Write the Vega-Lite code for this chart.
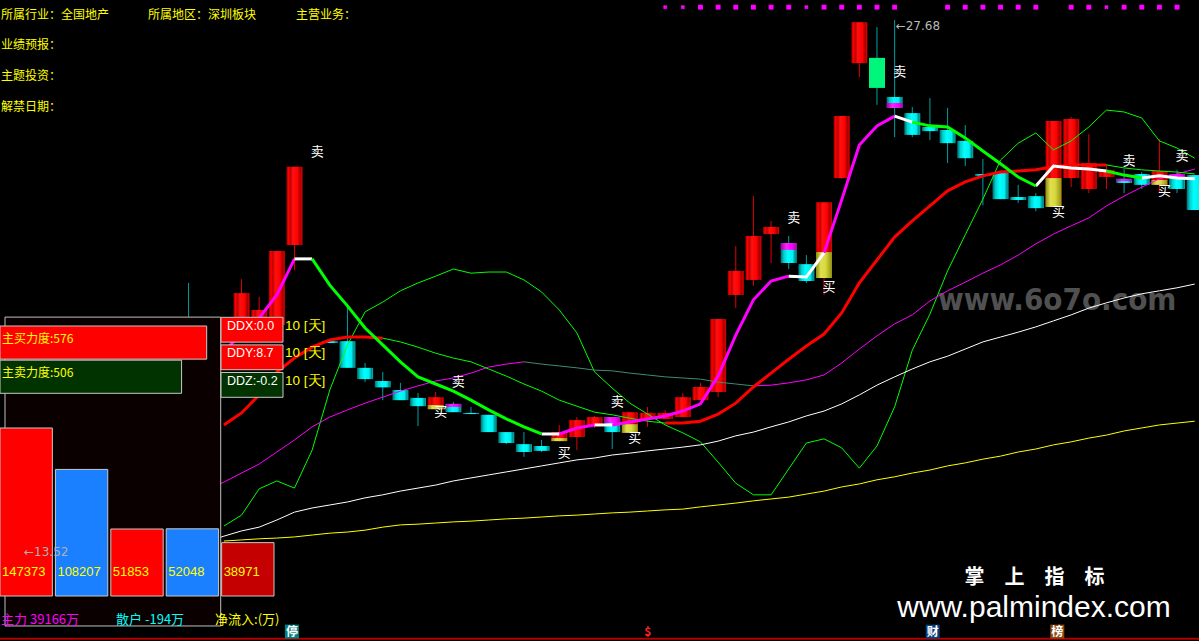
{
"$schema":"https://vega.github.io/schema/vega-lite/v6.json",
"width":1199,"height":641,"padding":0,"autosize":"none","background":"#000000",
"config":{"view":{"stroke":null},"legend":{"disable":true}},
"datasets":{
"candles":[
{"i":10,"o":19.43,"c":19.03,"h":20.68,"l":18.63,"t":"down"},
{"i":13,"o":19.43,"c":20.41,"h":20.78,"l":19.16,"t":"up"},
{"i":14,"o":19.69,"c":19.96,"h":20.31,"l":19.43,"t":"up"},
{"i":15,"o":19.56,"c":21.53,"h":21.53,"l":19.43,"t":"up"},
{"i":16,"o":21.69,"c":23.77,"h":23.77,"l":21.02,"t":"up"},
{"i":18,"o":19.13,"c":19.08,"h":19.13,"l":19.08,"t":"down"},
{"i":19,"o":19.13,"c":18.42,"h":20.04,"l":18.42,"t":"down"},
{"i":20,"o":18.42,"c":18.12,"h":18.55,"l":18.04,"t":"down"},
{"i":21,"o":18.07,"c":17.90,"h":18.31,"l":17.56,"t":"down"},
{"i":22,"o":17.83,"c":17.56,"h":18.02,"l":17.56,"t":"down"},
{"i":23,"o":17.62,"c":17.40,"h":17.75,"l":16.87,"t":"down"},
{"i":24,"o":17.32,"c":17.64,"h":17.78,"l":17.30,"t":"up"},
{"i":25,"o":17.46,"c":17.24,"h":17.51,"l":17.24,"t":"down"},
{"i":26,"o":17.22,"c":17.19,"h":17.38,"l":17.19,"t":"down"},
{"i":27,"o":17.17,"c":16.71,"h":17.17,"l":16.71,"t":"down"},
{"i":28,"o":16.71,"c":16.42,"h":16.71,"l":16.39,"t":"down"},
{"i":29,"o":16.39,"c":16.18,"h":16.71,"l":16.05,"t":"down"},
{"i":30,"o":16.34,"c":16.21,"h":16.50,"l":16.18,"t":"down"},
{"i":31,"o":16.47,"c":16.71,"h":16.90,"l":16.47,"t":"up"},
{"i":32,"o":16.58,"c":17.03,"h":17.11,"l":16.23,"t":"up"},
{"i":33,"o":16.90,"c":17.11,"h":17.14,"l":16.82,"t":"up"},
{"i":34,"o":17.11,"c":16.71,"h":17.11,"l":16.26,"t":"down"},
{"i":35,"o":16.69,"c":17.24,"h":17.24,"l":16.69,"t":"up"},
{"i":36,"o":17.06,"c":17.22,"h":17.38,"l":16.85,"t":"up"},
{"i":37,"o":17.06,"c":17.22,"h":17.30,"l":17.06,"t":"up"},
{"i":38,"o":17.11,"c":17.64,"h":17.75,"l":17.11,"t":"up"},
{"i":39,"o":17.56,"c":17.91,"h":18.02,"l":17.56,"t":"up"},
{"i":40,"o":17.78,"c":19.72,"h":19.72,"l":17.64,"t":"up"},
{"i":41,"o":20.36,"c":21.00,"h":21.66,"l":20.01,"t":"up"},
{"i":42,"o":20.76,"c":21.93,"h":22.99,"l":20.60,"t":"up"},
{"i":43,"o":21.98,"c":22.17,"h":22.33,"l":21.21,"t":"up"},
{"i":44,"o":21.74,"c":21.21,"h":21.93,"l":21.05,"t":"down"},
{"i":45,"o":21.18,"c":20.73,"h":21.42,"l":20.68,"t":"down"},
{"i":46,"o":20.81,"c":22.83,"h":22.83,"l":20.36,"t":"up"},
{"i":47,"o":23.47,"c":25.12,"h":25.12,"l":23.45,"t":"up"},
{"i":48,"o":26.53,"c":27.62,"h":27.62,"l":26.16,"t":"up"},
{"i":49,"o":26.67,"c":25.87,"h":27.49,"l":25.42,"t":"green"},
{"i":50,"o":25.63,"c":25.34,"h":27.68,"l":24.56,"t":"down"},
{"i":51,"o":25.20,"c":24.62,"h":25.36,"l":24.56,"t":"down"},
{"i":52,"o":24.83,"c":24.72,"h":25.60,"l":24.48,"t":"down"},
{"i":53,"o":24.75,"c":24.40,"h":25.34,"l":23.87,"t":"down"},
{"i":54,"o":24.46,"c":24.00,"h":24.88,"l":23.79,"t":"down"},
{"i":55,"o":23.58,"c":23.53,"h":23.98,"l":22.75,"t":"down"},
{"i":56,"o":23.63,"c":22.91,"h":23.63,"l":22.91,"t":"down"},
{"i":57,"o":22.97,"c":22.89,"h":23.29,"l":22.81,"t":"down"},
{"i":58,"o":22.99,"c":22.67,"h":23.07,"l":22.59,"t":"down"},
{"i":59,"o":22.70,"c":24.99,"h":24.99,"l":22.70,"t":"up"},
{"i":60,"o":23.47,"c":25.04,"h":25.10,"l":23.23,"t":"up"},
{"i":61,"o":23.18,"c":23.87,"h":24.64,"l":23.07,"t":"up"},
{"i":62,"o":23.50,"c":23.69,"h":23.82,"l":23.18,"t":"up"},
{"i":63,"o":23.45,"c":23.34,"h":23.71,"l":23.07,"t":"down"},
{"i":64,"o":23.58,"c":23.29,"h":23.63,"l":23.18,"t":"down"},
{"i":65,"o":23.29,"c":23.66,"h":24.51,"l":23.07,"t":"up"},
{"i":66,"o":23.58,"c":23.18,"h":23.69,"l":23.07,"t":"down"},
{"i":67,"o":23.55,"c":22.62,"h":23.55,"l":22.62,"t":"down"}
],
"ov":[
{"i":24,"a":17.43,"b":17.32,"k":"Y"},{"i":25,"a":17.46,"b":17.38,"k":"M"},{"i":31,"a":16.55,"b":16.47,"k":"Y"},
{"i":34,"a":17.11,"b":16.95,"k":"M"},{"i":35,"a":16.92,"b":16.69,"k":"Y"},{"i":44,"a":21.74,"b":21.56,"k":"M"},
{"i":46,"a":21.50,"b":20.81,"k":"Y"},{"i":50,"a":25.47,"b":25.34,"k":"M"},{"i":59,"a":23.47,"b":22.70,"k":"Y"},
{"i":63,"a":23.45,"b":23.39,"k":"M"},{"i":65,"a":23.42,"b":23.29,"k":"Y"},{"i":66,"a":23.58,"b":23.50,"k":"M"}
],
"lines":[
{"ln":"A","sg":1,"st":"up","i":11,"p":18.42},{"ln":"A","sg":1,"st":"up","i":12,"p":18.84},{"ln":"A","sg":1,"st":"up","i":13,"p":19.35},{"ln":"A","sg":1,"st":"up","i":14,"p":19.75},{"ln":"A","sg":1,"st":"up","i":15,"p":20.36},{"ln":"A","sg":1,"st":"up","i":16,"p":21.32},
{"ln":"A","sg":2,"st":"flat","i":16,"p":21.32},{"ln":"A","sg":2,"st":"flat","i":17,"p":21.32},
{"ln":"A","sg":3,"st":"down","i":17,"p":21.32},{"ln":"A","sg":3,"st":"down","i":18,"p":20.62},{"ln":"A","sg":3,"st":"down","i":19,"p":20.07},{"ln":"A","sg":3,"st":"down","i":20,"p":19.48},{"ln":"A","sg":3,"st":"down","i":21,"p":19.03},{"ln":"A","sg":3,"st":"down","i":22,"p":18.58},{"ln":"A","sg":3,"st":"down","i":23,"p":18.18},{"ln":"A","sg":3,"st":"down","i":24,"p":17.99},{"ln":"A","sg":3,"st":"down","i":25,"p":17.80},{"ln":"A","sg":3,"st":"down","i":26,"p":17.56},{"ln":"A","sg":3,"st":"down","i":27,"p":17.30},{"ln":"A","sg":3,"st":"down","i":28,"p":17.06},{"ln":"A","sg":3,"st":"down","i":29,"p":16.85},{"ln":"A","sg":3,"st":"down","i":30,"p":16.66},
{"ln":"A","sg":4,"st":"flat","i":30,"p":16.66},{"ln":"A","sg":4,"st":"flat","i":31,"p":16.66},
{"ln":"A","sg":5,"st":"up","i":31,"p":16.66},{"ln":"A","sg":5,"st":"up","i":32,"p":16.82},{"ln":"A","sg":5,"st":"up","i":33,"p":16.90},
{"ln":"A","sg":6,"st":"flat","i":33,"p":16.90},{"ln":"A","sg":6,"st":"flat","i":34,"p":16.90},
{"ln":"A","sg":7,"st":"up","i":34,"p":16.90},{"ln":"A","sg":7,"st":"up","i":35,"p":16.98},{"ln":"A","sg":7,"st":"up","i":36,"p":17.06},{"ln":"A","sg":7,"st":"up","i":37,"p":17.14},{"ln":"A","sg":7,"st":"up","i":38,"p":17.27},{"ln":"A","sg":7,"st":"up","i":39,"p":17.46},{"ln":"A","sg":7,"st":"up","i":40,"p":18.20},{"ln":"A","sg":7,"st":"up","i":41,"p":19.29},{"ln":"A","sg":7,"st":"up","i":42,"p":20.23},{"ln":"A","sg":7,"st":"up","i":43,"p":20.73},{"ln":"A","sg":7,"st":"up","i":44,"p":20.86},
{"ln":"A","sg":8,"st":"flat","i":44,"p":20.86},{"ln":"A","sg":8,"st":"flat","i":45,"p":20.84},{"ln":"A","sg":8,"st":"flat","i":46,"p":21.48},
{"ln":"A","sg":9,"st":"up","i":46,"p":21.48},{"ln":"A","sg":9,"st":"up","i":47,"p":22.89},{"ln":"A","sg":9,"st":"up","i":48,"p":24.35},{"ln":"A","sg":9,"st":"up","i":49,"p":24.86},{"ln":"A","sg":9,"st":"up","i":50,"p":25.12},
{"ln":"A","sg":10,"st":"flat","i":50,"p":25.12},{"ln":"A","sg":10,"st":"flat","i":51,"p":24.96},
{"ln":"A","sg":11,"st":"down","i":51,"p":24.96},{"ln":"A","sg":11,"st":"down","i":52,"p":24.86},{"ln":"A","sg":11,"st":"down","i":53,"p":24.83},{"ln":"A","sg":11,"st":"down","i":54,"p":24.54},{"ln":"A","sg":11,"st":"down","i":55,"p":24.19},{"ln":"A","sg":11,"st":"down","i":56,"p":23.85},{"ln":"A","sg":11,"st":"down","i":57,"p":23.50},{"ln":"A","sg":11,"st":"down","i":58,"p":23.26},
{"ln":"A","sg":12,"st":"flat","i":58,"p":23.26},{"ln":"A","sg":12,"st":"flat","i":59,"p":23.79},{"ln":"A","sg":12,"st":"flat","i":60,"p":23.74},{"ln":"A","sg":12,"st":"flat","i":61,"p":23.71},{"ln":"A","sg":12,"st":"flat","i":62,"p":23.66},
{"ln":"A","sg":13,"st":"down","i":62,"p":23.66},{"ln":"A","sg":13,"st":"down","i":63,"p":23.55},{"ln":"A","sg":13,"st":"down","i":64,"p":23.47},
{"ln":"A","sg":14,"st":"flat","i":64,"p":23.47},{"ln":"A","sg":14,"st":"flat","i":65,"p":23.53},{"ln":"A","sg":14,"st":"flat","i":66,"p":23.47},{"ln":"A","sg":14,"st":"flat","i":67,"p":23.45},
{"ln":"B","sg":1,"st":"up","i":12,"p":16.90},{"ln":"B","sg":1,"st":"up","i":13,"p":17.22},{"ln":"B","sg":1,"st":"up","i":14,"p":17.70},{"ln":"B","sg":1,"st":"up","i":15,"p":18.31},{"ln":"B","sg":1,"st":"up","i":16,"p":18.68},{"ln":"B","sg":1,"st":"up","i":17,"p":18.97},{"ln":"B","sg":1,"st":"up","i":18,"p":19.16},{"ln":"B","sg":1,"st":"up","i":19,"p":19.24},{"ln":"B","sg":1,"st":"up","i":20,"p":19.24},{"ln":"B","sg":1,"st":"up","i":21,"p":19.21},
{"ln":"B","sg":2,"st":"down","i":21,"p":19.21},{"ln":"B","sg":2,"st":"down","i":22,"p":19.11},{"ln":"B","sg":2,"st":"down","i":23,"p":18.97},{"ln":"B","sg":2,"st":"down","i":24,"p":18.81},{"ln":"B","sg":2,"st":"down","i":25,"p":18.68},{"ln":"B","sg":2,"st":"down","i":26,"p":18.58},{"ln":"B","sg":2,"st":"down","i":27,"p":18.39},{"ln":"B","sg":2,"st":"down","i":28,"p":18.20},{"ln":"B","sg":2,"st":"down","i":29,"p":17.99},{"ln":"B","sg":2,"st":"down","i":30,"p":17.80},{"ln":"B","sg":2,"st":"down","i":31,"p":17.56},{"ln":"B","sg":2,"st":"down","i":32,"p":17.40},{"ln":"B","sg":2,"st":"down","i":33,"p":17.24},{"ln":"B","sg":2,"st":"down","i":34,"p":17.17},{"ln":"B","sg":2,"st":"down","i":35,"p":17.08},{"ln":"B","sg":2,"st":"down","i":36,"p":17.00},{"ln":"B","sg":2,"st":"down","i":37,"p":16.95},
{"ln":"B","sg":3,"st":"up","i":37,"p":16.95},{"ln":"B","sg":3,"st":"up","i":38,"p":16.95},{"ln":"B","sg":3,"st":"up","i":39,"p":17.00},{"ln":"B","sg":3,"st":"up","i":40,"p":17.19},{"ln":"B","sg":3,"st":"up","i":41,"p":17.48},{"ln":"B","sg":3,"st":"up","i":42,"p":17.91},{"ln":"B","sg":3,"st":"up","i":43,"p":18.28},{"ln":"B","sg":3,"st":"up","i":44,"p":18.65},{"ln":"B","sg":3,"st":"up","i":45,"p":19.00},{"ln":"B","sg":3,"st":"up","i":46,"p":19.32},{"ln":"B","sg":3,"st":"up","i":47,"p":19.88},{"ln":"B","sg":3,"st":"up","i":48,"p":20.68},{"ln":"B","sg":3,"st":"up","i":49,"p":21.29},{"ln":"B","sg":3,"st":"up","i":50,"p":21.90},{"ln":"B","sg":3,"st":"up","i":51,"p":22.33},{"ln":"B","sg":3,"st":"up","i":52,"p":22.73},{"ln":"B","sg":3,"st":"up","i":53,"p":23.13},{"ln":"B","sg":3,"st":"up","i":54,"p":23.37},{"ln":"B","sg":3,"st":"up","i":55,"p":23.53},{"ln":"B","sg":3,"st":"up","i":56,"p":23.63},{"ln":"B","sg":3,"st":"up","i":57,"p":23.66},{"ln":"B","sg":3,"st":"up","i":58,"p":23.69},{"ln":"B","sg":3,"st":"up","i":59,"p":23.77},{"ln":"B","sg":3,"st":"up","i":60,"p":23.82},{"ln":"B","sg":3,"st":"up","i":61,"p":23.82},{"ln":"B","sg":3,"st":"up","i":62,"p":23.82},
{"ln":"B","sg":4,"st":"down","i":62,"p":23.82},{"ln":"B","sg":4,"st":"down","i":63,"p":23.74},{"ln":"B","sg":4,"st":"down","i":64,"p":23.69},{"ln":"B","sg":4,"st":"down","i":65,"p":23.66},{"ln":"B","sg":4,"st":"down","i":66,"p":23.63},{"ln":"B","sg":4,"st":"down","i":67,"p":23.58},
{"ln":"C","sg":1,"st":"up","i":11,"p":15.17},{"ln":"C","sg":1,"st":"up","i":12,"p":15.38},{"ln":"C","sg":1,"st":"up","i":13,"p":15.62},{"ln":"C","sg":1,"st":"up","i":14,"p":15.86},{"ln":"C","sg":1,"st":"up","i":15,"p":16.18},{"ln":"C","sg":1,"st":"up","i":16,"p":16.50},{"ln":"C","sg":1,"st":"up","i":17,"p":16.85},{"ln":"C","sg":1,"st":"up","i":18,"p":17.11},{"ln":"C","sg":1,"st":"up","i":19,"p":17.30},{"ln":"C","sg":1,"st":"up","i":20,"p":17.48},{"ln":"C","sg":1,"st":"up","i":21,"p":17.64},{"ln":"C","sg":1,"st":"up","i":22,"p":17.80},{"ln":"C","sg":1,"st":"up","i":23,"p":17.94},{"ln":"C","sg":1,"st":"up","i":24,"p":18.07},{"ln":"C","sg":1,"st":"up","i":25,"p":18.15},{"ln":"C","sg":1,"st":"up","i":26,"p":18.28},{"ln":"C","sg":1,"st":"up","i":27,"p":18.44},{"ln":"C","sg":1,"st":"up","i":28,"p":18.52},{"ln":"C","sg":1,"st":"up","i":29,"p":18.58},
{"ln":"C","sg":2,"st":"down","i":29,"p":18.58},{"ln":"C","sg":2,"st":"down","i":30,"p":18.52},{"ln":"C","sg":2,"st":"down","i":31,"p":18.47},{"ln":"C","sg":2,"st":"down","i":32,"p":18.42},{"ln":"C","sg":2,"st":"down","i":33,"p":18.36},{"ln":"C","sg":2,"st":"down","i":34,"p":18.34},{"ln":"C","sg":2,"st":"down","i":35,"p":18.28},{"ln":"C","sg":2,"st":"down","i":36,"p":18.23},{"ln":"C","sg":2,"st":"down","i":37,"p":18.18},{"ln":"C","sg":2,"st":"down","i":38,"p":18.15},{"ln":"C","sg":2,"st":"down","i":39,"p":18.12},{"ln":"C","sg":2,"st":"down","i":40,"p":18.04},{"ln":"C","sg":2,"st":"down","i":41,"p":17.99},{"ln":"C","sg":2,"st":"down","i":42,"p":17.94},
{"ln":"C","sg":3,"st":"up","i":42,"p":17.94},{"ln":"C","sg":3,"st":"up","i":43,"p":17.96},{"ln":"C","sg":3,"st":"up","i":44,"p":18.02},{"ln":"C","sg":3,"st":"up","i":45,"p":18.10},{"ln":"C","sg":3,"st":"up","i":46,"p":18.23},{"ln":"C","sg":3,"st":"up","i":47,"p":18.55},{"ln":"C","sg":3,"st":"up","i":48,"p":18.92},{"ln":"C","sg":3,"st":"up","i":49,"p":19.27},{"ln":"C","sg":3,"st":"up","i":50,"p":19.59},{"ln":"C","sg":3,"st":"up","i":51,"p":19.83},{"ln":"C","sg":3,"st":"up","i":52,"p":20.20},{"ln":"C","sg":3,"st":"up","i":53,"p":20.47},{"ln":"C","sg":3,"st":"up","i":54,"p":20.70},{"ln":"C","sg":3,"st":"up","i":55,"p":20.94},{"ln":"C","sg":3,"st":"up","i":56,"p":21.16},{"ln":"C","sg":3,"st":"up","i":57,"p":21.42},{"ln":"C","sg":3,"st":"up","i":58,"p":21.72},{"ln":"C","sg":3,"st":"up","i":59,"p":21.98},{"ln":"C","sg":3,"st":"up","i":60,"p":22.20},{"ln":"C","sg":3,"st":"up","i":61,"p":22.41},{"ln":"C","sg":3,"st":"up","i":62,"p":22.73},{"ln":"C","sg":3,"st":"up","i":63,"p":22.99},{"ln":"C","sg":3,"st":"up","i":64,"p":23.23},{"ln":"C","sg":3,"st":"up","i":65,"p":23.45},{"ln":"C","sg":3,"st":"up","i":66,"p":23.58},{"ln":"C","sg":3,"st":"up","i":67,"p":23.71},
{"ln":"D","sg":1,"st":"up","i":11,"p":13.79},{"ln":"D","sg":1,"st":"up","i":12,"p":13.94},{"ln":"D","sg":1,"st":"up","i":13,"p":14.08},{"ln":"D","sg":1,"st":"up","i":14,"p":14.18},{"ln":"D","sg":1,"st":"up","i":15,"p":14.37},{"ln":"D","sg":1,"st":"up","i":16,"p":14.58},{"ln":"D","sg":1,"st":"up","i":17,"p":14.69},{"ln":"D","sg":1,"st":"up","i":18,"p":14.77},{"ln":"D","sg":1,"st":"up","i":19,"p":14.85},{"ln":"D","sg":1,"st":"up","i":20,"p":14.96},{"ln":"D","sg":1,"st":"up","i":21,"p":15.04},{"ln":"D","sg":1,"st":"up","i":22,"p":15.14},{"ln":"D","sg":1,"st":"up","i":23,"p":15.22},{"ln":"D","sg":1,"st":"up","i":24,"p":15.30},{"ln":"D","sg":1,"st":"up","i":25,"p":15.41},{"ln":"D","sg":1,"st":"up","i":26,"p":15.49},{"ln":"D","sg":1,"st":"up","i":27,"p":15.57},{"ln":"D","sg":1,"st":"up","i":28,"p":15.65},{"ln":"D","sg":1,"st":"up","i":29,"p":15.73},{"ln":"D","sg":1,"st":"up","i":30,"p":15.81},{"ln":"D","sg":1,"st":"up","i":31,"p":15.89},{"ln":"D","sg":1,"st":"up","i":32,"p":15.97},{"ln":"D","sg":1,"st":"up","i":33,"p":16.02},{"ln":"D","sg":1,"st":"up","i":34,"p":16.10},{"ln":"D","sg":1,"st":"up","i":35,"p":16.15},{"ln":"D","sg":1,"st":"up","i":36,"p":16.21},{"ln":"D","sg":1,"st":"up","i":37,"p":16.26},{"ln":"D","sg":1,"st":"up","i":38,"p":16.31},{"ln":"D","sg":1,"st":"up","i":39,"p":16.37},{"ln":"D","sg":1,"st":"up","i":40,"p":16.47},{"ln":"D","sg":1,"st":"up","i":41,"p":16.61},{"ln":"D","sg":1,"st":"up","i":42,"p":16.71},{"ln":"D","sg":1,"st":"up","i":43,"p":16.85},{"ln":"D","sg":1,"st":"up","i":44,"p":16.98},{"ln":"D","sg":1,"st":"up","i":45,"p":17.14},{"ln":"D","sg":1,"st":"up","i":46,"p":17.27},{"ln":"D","sg":1,"st":"up","i":47,"p":17.46},{"ln":"D","sg":1,"st":"up","i":48,"p":17.70},{"ln":"D","sg":1,"st":"up","i":49,"p":17.96},{"ln":"D","sg":1,"st":"up","i":50,"p":18.18},{"ln":"D","sg":1,"st":"up","i":51,"p":18.39},{"ln":"D","sg":1,"st":"up","i":52,"p":18.58},{"ln":"D","sg":1,"st":"up","i":53,"p":18.73},{"ln":"D","sg":1,"st":"up","i":54,"p":18.92},{"ln":"D","sg":1,"st":"up","i":55,"p":19.11},{"ln":"D","sg":1,"st":"up","i":56,"p":19.24},{"ln":"D","sg":1,"st":"up","i":57,"p":19.37},{"ln":"D","sg":1,"st":"up","i":58,"p":19.51},{"ln":"D","sg":1,"st":"up","i":59,"p":19.67},{"ln":"D","sg":1,"st":"up","i":60,"p":19.83},{"ln":"D","sg":1,"st":"up","i":61,"p":20.01},{"ln":"D","sg":1,"st":"up","i":62,"p":20.15},{"ln":"D","sg":1,"st":"up","i":63,"p":20.28},{"ln":"D","sg":1,"st":"up","i":64,"p":20.39},{"ln":"D","sg":1,"st":"up","i":65,"p":20.47},{"ln":"D","sg":1,"st":"up","i":66,"p":20.55},{"ln":"D","sg":1,"st":"up","i":67,"p":20.65},
{"ln":"E","sg":1,"st":"up","i":12,"p":13.81},{"ln":"E","sg":1,"st":"up","i":13,"p":13.84},{"ln":"E","sg":1,"st":"up","i":14,"p":13.87},{"ln":"E","sg":1,"st":"up","i":15,"p":13.89},{"ln":"E","sg":1,"st":"up","i":16,"p":13.92},{"ln":"E","sg":1,"st":"up","i":17,"p":13.97},{"ln":"E","sg":1,"st":"up","i":18,"p":14.02},{"ln":"E","sg":1,"st":"up","i":19,"p":14.05},{"ln":"E","sg":1,"st":"up","i":20,"p":14.10},{"ln":"E","sg":1,"st":"up","i":21,"p":14.18},{"ln":"E","sg":1,"st":"up","i":22,"p":14.24},{"ln":"E","sg":1,"st":"up","i":23,"p":14.26},{"ln":"E","sg":1,"st":"up","i":24,"p":14.29},{"ln":"E","sg":1,"st":"up","i":25,"p":14.32},{"ln":"E","sg":1,"st":"up","i":26,"p":14.34},{"ln":"E","sg":1,"st":"up","i":27,"p":14.37},{"ln":"E","sg":1,"st":"up","i":28,"p":14.40},{"ln":"E","sg":1,"st":"up","i":29,"p":14.42},{"ln":"E","sg":1,"st":"up","i":30,"p":14.45},{"ln":"E","sg":1,"st":"up","i":31,"p":14.48},{"ln":"E","sg":1,"st":"up","i":32,"p":14.50},{"ln":"E","sg":1,"st":"up","i":33,"p":14.53},{"ln":"E","sg":1,"st":"up","i":34,"p":14.56},{"ln":"E","sg":1,"st":"up","i":35,"p":14.58},{"ln":"E","sg":1,"st":"up","i":36,"p":14.61},{"ln":"E","sg":1,"st":"up","i":37,"p":14.64},{"ln":"E","sg":1,"st":"up","i":38,"p":14.66},{"ln":"E","sg":1,"st":"up","i":39,"p":14.72},{"ln":"E","sg":1,"st":"up","i":40,"p":14.77},{"ln":"E","sg":1,"st":"up","i":41,"p":14.82},{"ln":"E","sg":1,"st":"up","i":42,"p":14.88},{"ln":"E","sg":1,"st":"up","i":43,"p":14.93},{"ln":"E","sg":1,"st":"up","i":44,"p":14.98},{"ln":"E","sg":1,"st":"up","i":45,"p":15.06},{"ln":"E","sg":1,"st":"up","i":46,"p":15.14},{"ln":"E","sg":1,"st":"up","i":47,"p":15.25},{"ln":"E","sg":1,"st":"up","i":48,"p":15.33},{"ln":"E","sg":1,"st":"up","i":49,"p":15.44},{"ln":"E","sg":1,"st":"up","i":50,"p":15.52},{"ln":"E","sg":1,"st":"up","i":51,"p":15.62},{"ln":"E","sg":1,"st":"up","i":52,"p":15.70},{"ln":"E","sg":1,"st":"up","i":53,"p":15.81},{"ln":"E","sg":1,"st":"up","i":54,"p":15.89},{"ln":"E","sg":1,"st":"up","i":55,"p":15.99},{"ln":"E","sg":1,"st":"up","i":56,"p":16.07},{"ln":"E","sg":1,"st":"up","i":57,"p":16.18},{"ln":"E","sg":1,"st":"up","i":58,"p":16.26},{"ln":"E","sg":1,"st":"up","i":59,"p":16.37},{"ln":"E","sg":1,"st":"up","i":60,"p":16.45},{"ln":"E","sg":1,"st":"up","i":61,"p":16.55},{"ln":"E","sg":1,"st":"up","i":62,"p":16.63},{"ln":"E","sg":1,"st":"up","i":63,"p":16.74},{"ln":"E","sg":1,"st":"up","i":64,"p":16.82},{"ln":"E","sg":1,"st":"up","i":65,"p":16.90},{"ln":"E","sg":1,"st":"up","i":66,"p":16.95},{"ln":"E","sg":1,"st":"up","i":67,"p":17.00},
{"ln":"F","sg":1,"st":"up","i":12,"p":14.21},{"ln":"F","sg":1,"st":"up","i":13,"p":14.50},{"ln":"F","sg":1,"st":"up","i":14,"p":15.20},{"ln":"F","sg":1,"st":"up","i":15,"p":15.41},{"ln":"F","sg":1,"st":"up","i":16,"p":15.22},{"ln":"F","sg":1,"st":"up","i":17,"p":16.23},{"ln":"F","sg":1,"st":"up","i":18,"p":17.83},{"ln":"F","sg":1,"st":"up","i":19,"p":19.03},{"ln":"F","sg":1,"st":"up","i":20,"p":19.91},{"ln":"F","sg":1,"st":"up","i":21,"p":20.17},{"ln":"F","sg":1,"st":"up","i":22,"p":20.47},{"ln":"F","sg":1,"st":"up","i":23,"p":20.68},{"ln":"F","sg":1,"st":"up","i":24,"p":20.86},{"ln":"F","sg":1,"st":"up","i":25,"p":21.05},{"ln":"F","sg":1,"st":"up","i":26,"p":20.94},{"ln":"F","sg":1,"st":"up","i":27,"p":20.97},{"ln":"F","sg":1,"st":"up","i":28,"p":20.97},{"ln":"F","sg":1,"st":"up","i":29,"p":20.76},{"ln":"F","sg":1,"st":"up","i":30,"p":20.44},{"ln":"F","sg":1,"st":"up","i":31,"p":19.96},{"ln":"F","sg":1,"st":"up","i":32,"p":19.35},{"ln":"F","sg":1,"st":"up","i":33,"p":18.31},{"ln":"F","sg":1,"st":"up","i":34,"p":17.88},{"ln":"F","sg":1,"st":"up","i":35,"p":17.48},{"ln":"F","sg":1,"st":"up","i":36,"p":17.19},{"ln":"F","sg":1,"st":"up","i":37,"p":16.90},{"ln":"F","sg":1,"st":"up","i":38,"p":16.69},{"ln":"F","sg":1,"st":"up","i":39,"p":16.45},{"ln":"F","sg":1,"st":"up","i":40,"p":15.91},{"ln":"F","sg":1,"st":"up","i":41,"p":15.35},{"ln":"F","sg":1,"st":"up","i":42,"p":15.04},{"ln":"F","sg":1,"st":"up","i":43,"p":15.04},{"ln":"F","sg":1,"st":"up","i":44,"p":15.73},{"ln":"F","sg":1,"st":"up","i":45,"p":16.42},{"ln":"F","sg":1,"st":"up","i":46,"p":16.53},{"ln":"F","sg":1,"st":"up","i":47,"p":16.29},{"ln":"F","sg":1,"st":"up","i":48,"p":15.75},{"ln":"F","sg":1,"st":"up","i":49,"p":16.34},{"ln":"F","sg":1,"st":"up","i":50,"p":17.38},{"ln":"F","sg":1,"st":"up","i":51,"p":18.89},{"ln":"F","sg":1,"st":"up","i":52,"p":19.85},{"ln":"F","sg":1,"st":"up","i":53,"p":21.00},{"ln":"F","sg":1,"st":"up","i":54,"p":21.96},{"ln":"F","sg":1,"st":"up","i":55,"p":22.91},{"ln":"F","sg":1,"st":"up","i":56,"p":23.95},{"ln":"F","sg":1,"st":"up","i":57,"p":24.40},{"ln":"F","sg":1,"st":"up","i":58,"p":24.67},{"ln":"F","sg":1,"st":"up","i":59,"p":24.22},{"ln":"F","sg":1,"st":"up","i":60,"p":24.46},{"ln":"F","sg":1,"st":"up","i":61,"p":24.83},{"ln":"F","sg":1,"st":"up","i":62,"p":25.28},{"ln":"F","sg":1,"st":"up","i":63,"p":25.23},{"ln":"F","sg":1,"st":"up","i":64,"p":25.07},{"ln":"F","sg":1,"st":"up","i":65,"p":24.46},{"ln":"F","sg":1,"st":"up","i":66,"p":24.27},{"ln":"F","sg":1,"st":"up","i":67,"p":24.00}
],
"sig":[
{"i":17,"p":24.16,"s":"卖"},{"i":25,"p":18.04,"s":"卖"},{"i":24,"p":17.24,"s":"买"},{"i":31,"p":16.15,"s":"买"},{"i":34,"p":17.51,"s":"卖"},{"i":35,"p":16.55,"s":"买"},{"i":44,"p":22.41,"s":"卖"},{"i":46,"p":20.57,"s":"买"},{"i":50,"p":26.29,"s":"卖"},{"i":59,"p":22.57,"s":"买"},{"i":63,"p":23.92,"s":"卖"},{"i":65,"p":23.13,"s":"买"},{"i":66,"p":24.06,"s":"卖"}
],
"cross":[
{"i":37,"g":"b"},{"i":38,"g":"b"},{"i":39,"g":"a"},{"i":40,"g":"a"},{"i":41,"g":"a"},{"i":42,"g":"a"},{"i":43,"g":"a"},{"i":44,"g":"a"},{"i":45,"g":"b"},{"i":46,"g":"a"},{"i":47,"g":"a"},{"i":48,"g":"a"},{"i":49,"g":"a"},{"i":50,"g":"a"},
{"i":53,"g":"a"},{"i":54,"g":"a"},{"i":55,"g":"a"},{"i":56,"g":"a"},{"i":57,"g":"a"},{"i":58,"g":"a"},
{"i":60,"g":"a"},{"i":61,"g":"a"},{"i":62,"g":"b"},{"i":63,"g":"a"},{"i":64,"g":"a"},{"i":65,"g":"a"},{"i":66,"g":"a"}
],
"flow":[
{"n":"主力流入","v":147373,"c":"流入"},{"n":"主力流出","v":108207,"c":"流出"},{"n":"散户流入","v":51853,"c":"流入"},{"n":"散户流出","v":52048,"c":"流出"},{"n":"净流入","v":38971,"c":"净额"}
],
"force":[{"k":"主买力度:576","v":576},{"k":"主卖力度:506","v":506}],
"ddx":[
{"k":"DDX","v":0.0,"t":"DDX:0.0","d":"10 [天]"},{"k":"DDY","v":8.7,"t":"DDY:8.7","d":"10 [天]"},{"k":"DDZ","v":-0.2,"t":"DDZ:-0.2","d":"10 [天]"}
],
"marks":[{"i":16,"m":"停"},{"i":36,"m":"$"},{"i":52,"m":"财"},{"i":59,"m":"榜"}]
},
"resolve":{"scale":{"x":"independent","y":"independent","color":"independent"}},
"layer":[
{
"resolve":{"scale":{"color":"independent"}},
"layer":[
{"data":{"values":[{}]},"mark":{"type":"text","font":"'Liberation Sans Narrow', 'DejaVu Sans Condensed', sans-serif","fontWeight":"bold","fontSize":31,"color":"#505050","align":"center","baseline":"alphabetic"},
 "encoding":{"x":{"datum":59.21,"axis":null,"scale":{"domain":[-0.4,66.96],"nice":false,"zero":false}},"y":{"datum":19.96,"axis":null,"scale":{"domain":[11.15,28.21],"nice":false,"zero":false}},"text":{"value":"www.6o7o.com"}}},
{"data":{"name":"candles"},"mark":{"type":"rule","strokeWidth":1},
 "encoding":{"x":{"field":"i","type":"quantitative","axis":null,"scale":{"domain":[-0.4,66.96],"nice":false,"zero":false}},"y":{"field":"l","type":"quantitative","axis":null,"scale":{"domain":[11.15,28.21],"nice":false,"zero":false}},"y2":{"field":"h"},
 "color":{"field":"t","type":"nominal","legend":null,"scale":{"domain":["up","down","green"],"range":["#e00000","#00a0a0","#00a0a0"]}}}},
{"data":{"name":"candles"},"transform":[{"filter":"datum.t=='up'"}],
 "mark":{"type":"bar","width":16,"color":{"gradient":"linear","x1":0,"x2":1,"y1":0,"y2":0,"stops":[{"offset":0,"color":"#8a0000"},{"offset":0.12,"color":"#ff0000"},{"offset":0.25,"color":"#c00000"},{"offset":0.4,"color":"#ff1010"},{"offset":0.7,"color":"#ff0000"},{"offset":0.86,"color":"#a00000"},{"offset":1,"color":"#e80000"}]}},
 "encoding":{"x":{"field":"i","type":"quantitative"},"y":{"field":"o","type":"quantitative"},"y2":{"field":"c"}}},
{"data":{"name":"candles"},"transform":[{"filter":"datum.t=='down'"}],
 "mark":{"type":"bar","width":16,"color":{"gradient":"linear","x1":0,"x2":1,"y1":0,"y2":0,"stops":[{"offset":0,"color":"#006a6a"},{"offset":0.2,"color":"#00d0d0"},{"offset":0.45,"color":"#00ffff"},{"offset":0.75,"color":"#00f0f0"},{"offset":0.9,"color":"#008c8c"},{"offset":1,"color":"#00b0b0"}]}},
 "encoding":{"x":{"field":"i","type":"quantitative"},"y":{"field":"o","type":"quantitative"},"y2":{"field":"c"}}},
{"data":{"name":"candles"},"transform":[{"filter":"datum.t=='green'"}],
 "mark":{"type":"bar","width":16,"color":"#00f57c"},
 "encoding":{"x":{"field":"i","type":"quantitative"},"y":{"field":"o","type":"quantitative"},"y2":{"field":"c"}}},
{"data":{"name":"ov"},"transform":[{"filter":"datum.k=='Y'"}],
 "mark":{"type":"bar","width":16,"color":{"gradient":"linear","x1":0,"x2":1,"y1":0,"y2":0,"stops":[{"offset":0,"color":"#8c8c10"},{"offset":0.3,"color":"#e0e050"},{"offset":0.6,"color":"#d8d840"},{"offset":1,"color":"#909010"}]}},
 "encoding":{"x":{"field":"i","type":"quantitative"},"y":{"field":"a","type":"quantitative"},"y2":{"field":"b"}}},
{"data":{"name":"ov"},"transform":[{"filter":"datum.k=='M'"}],
 "mark":{"type":"bar","width":16,"color":{"gradient":"linear","x1":0,"x2":1,"y1":0,"y2":0,"stops":[{"offset":0,"color":"#a000a0"},{"offset":0.35,"color":"#ff20ff"},{"offset":0.7,"color":"#ff00ff"},{"offset":1,"color":"#b000b0"}]}},
 "encoding":{"x":{"field":"i","type":"quantitative"},"y":{"field":"a","type":"quantitative"},"y2":{"field":"b"}}},
{"data":{"name":"lines"},"transform":[{"filter":"datum.ln=='F'"}],"mark":{"type":"line","color":"#00ff00","strokeWidth":1},
 "encoding":{"x":{"field":"i","type":"quantitative"},"y":{"field":"p","type":"quantitative"},"detail":{"field":"sg","type":"nominal"}}},
{"data":{"name":"lines"},"transform":[{"filter":"datum.ln=='D'"}],"mark":{"type":"line","color":"#ffffff","strokeWidth":1},
 "encoding":{"x":{"field":"i","type":"quantitative"},"y":{"field":"p","type":"quantitative"},"detail":{"field":"sg","type":"nominal"}}},
{"data":{"name":"lines"},"transform":[{"filter":"datum.ln=='E'"}],"mark":{"type":"line","color":"#ffff00","strokeWidth":1},
 "encoding":{"x":{"field":"i","type":"quantitative"},"y":{"field":"p","type":"quantitative"},"detail":{"field":"sg","type":"nominal"}}},
{"data":{"name":"lines"},"transform":[{"filter":"datum.ln=='C' && datum.st=='up'"}],"mark":{"type":"line","color":"#ff00ff","strokeWidth":1},
 "encoding":{"x":{"field":"i","type":"quantitative"},"y":{"field":"p","type":"quantitative"},"detail":{"field":"sg","type":"nominal"}}},
{"data":{"name":"lines"},"transform":[{"filter":"datum.ln=='C' && datum.st=='down'"}],"mark":{"type":"line","color":"#3d8c74","strokeWidth":1},
 "encoding":{"x":{"field":"i","type":"quantitative"},"y":{"field":"p","type":"quantitative"},"detail":{"field":"sg","type":"nominal"}}},
{"data":{"name":"lines"},"transform":[{"filter":"datum.ln=='B' && datum.st=='up'"}],"mark":{"type":"line","color":"#ff0000","strokeWidth":3},
 "encoding":{"x":{"field":"i","type":"quantitative"},"y":{"field":"p","type":"quantitative"},"detail":{"field":"sg","type":"nominal"}}},
{"data":{"name":"lines"},"transform":[{"filter":"datum.ln=='B' && datum.st=='down'"}],"mark":{"type":"line","color":"#00ff00","strokeWidth":1},
 "encoding":{"x":{"field":"i","type":"quantitative"},"y":{"field":"p","type":"quantitative"},"detail":{"field":"sg","type":"nominal"}}},
{"data":{"name":"lines"},"transform":[{"filter":"datum.ln=='A' && datum.st=='up'"}],"mark":{"type":"line","color":"#ff00ff","strokeWidth":3},
 "encoding":{"x":{"field":"i","type":"quantitative"},"y":{"field":"p","type":"quantitative"},"detail":{"field":"sg","type":"nominal"}}},
{"data":{"name":"lines"},"transform":[{"filter":"datum.ln=='A' && datum.st=='flat'"}],"mark":{"type":"line","color":"#ffffff","strokeWidth":3},
 "encoding":{"x":{"field":"i","type":"quantitative"},"y":{"field":"p","type":"quantitative"},"detail":{"field":"sg","type":"nominal"}}},
{"data":{"name":"lines"},"transform":[{"filter":"datum.ln=='A' && datum.st=='down'"}],"mark":{"type":"line","color":"#00ff00","strokeWidth":3},
 "encoding":{"x":{"field":"i","type":"quantitative"},"y":{"field":"p","type":"quantitative"},"detail":{"field":"sg","type":"nominal"}}},
{"data":{"name":"sig"},"mark":{"type":"text","color":"#ffffff","fontSize":13,"font":"Noto Sans CJK SC","dx":5,"baseline":"middle","align":"center"},
 "encoding":{"x":{"field":"i","type":"quantitative"},"y":{"field":"p","type":"quantitative"},"text":{"field":"s"}}},
{"data":{"name":"cross"},"transform":[{"filter":"datum.g=='a'"}],"mark":{"type":"point","shape":"square","filled":true,"size":24,"color":"#ff00ff","opacity":1},
 "encoding":{"x":{"field":"i","type":"quantitative"},"y":{"datum":28.02}}},
{"data":{"name":"cross"},"transform":[{"filter":"datum.g=='b'"}],"mark":{"type":"point","shape":"cross","angle":45,"filled":true,"size":20,"color":"#ff00ff","opacity":1},
 "encoding":{"x":{"field":"i","type":"quantitative"},"y":{"datum":28.02}}},
{"data":{"values":[{}]},"mark":{"type":"text","align":"left","baseline":"middle","dx":1,"dy":6,"color":"#b8b8b8","fontSize":12,"font":"DejaVu Sans"},
 "encoding":{"x":{"datum":50},"y":{"datum":27.68},"text":{"value":"←27.68"}}},
{"data":{"values":[{}]},"mark":{"type":"rect","fill":"#0a0000","stroke":"#c0c0c0","strokeWidth":1},
 "encoding":{"x":{"datum":-0.4},"x2":{"datum":11.82},"y":{"datum":19.77},"y2":{"datum":11.55}}}
]
},
{
"data":{"name":"flow"},
"layer":[
{"mark":{"type":"bar","stroke":"#c8c8c8","strokeWidth":1},
 "encoding":{"x":{"field":"n","type":"nominal","sort":null,"axis":null,"scale":{"type":"band","range":[0,274],"paddingInner":0.055,"paddingOuter":0}},
 "y":{"field":"v","type":"quantitative","axis":null,"scale":{"domain":[-11500,147373],"range":[596,428],"nice":false,"zero":false}},
 "y2":{"datum":-11500},
 "color":{"field":"c","type":"nominal","legend":null,"scale":{"domain":["流入","流出","净额"],"range":["#ff0000","#1a80ff","#c40000"]}}}},
{"mark":{"type":"text","align":"left","baseline":"middle","dx":2,"color":"#ffff00","fontSize":13,"font":"Liberation Sans"},
 "encoding":{"x":{"field":"n","type":"nominal","sort":null,"axis":null,"bandPosition":0},"y":{"datum":11200},"text":{"field":"v","type":"quantitative","format":"d"}}}
]
},
{
"data":{"name":"force"},
"layer":[
{"mark":{"type":"bar","stroke":"#c8c8c8","strokeWidth":1},
 "encoding":{"y":{"field":"k","type":"nominal","sort":null,"axis":null,"scale":{"type":"band","range":[326,393.3],"paddingInner":0.03,"paddingOuter":0}},
 "x":{"field":"v","type":"quantitative","axis":null,"scale":{"domain":[0,576],"range":[0,206.7],"nice":false}},
 "color":{"field":"k","type":"nominal","legend":null,"scale":{"domain":["主买力度:576","主卖力度:506"],"range":["#ff0000","#003300"]}}}},
{"mark":{"type":"text","align":"left","baseline":"middle","dx":2,"dy":-4,"color":"#ffff00","fontSize":12,"font":"Noto Sans CJK SC"},
 "encoding":{"y":{"field":"k","type":"nominal","sort":null,"axis":null},"x":{"datum":0},"text":{"field":"k"}}}
]
},
{
"data":{"name":"ddx"},
"layer":[
{"mark":{"type":"rect","stroke":"#c8c8c8","strokeWidth":1},
 "encoding":{"y":{"field":"k","type":"nominal","sort":null,"axis":null,"scale":{"type":"band","range":[317.3,397.3],"paddingInner":0.1,"paddingOuter":0}},
 "x":{"datum":0,"axis":null,"scale":{"domain":[0,1],"range":[221,283],"nice":false,"zero":false}},"x2":{"datum":1},
 "color":{"condition":{"test":"datum.v < 0","value":"#003300"},"value":"#ff0000"}}},
{"mark":{"type":"text","align":"left","baseline":"middle","dx":6,"dy":-4,"color":"#ffffff","fontSize":12.5,"font":"Liberation Sans"},
 "encoding":{"y":{"field":"k","type":"nominal","sort":null,"axis":null},"x":{"datum":0},"text":{"field":"t"}}},
{"mark":{"type":"text","align":"left","baseline":"middle","dx":2,"dy":-4,"color":"#ffff00","fontSize":13.5,"font":"Liberation Sans"},
 "encoding":{"y":{"field":"k","type":"nominal","sort":null,"axis":null},"x":{"datum":1},"text":{"field":"d"}}}
]
},
{
"data":{"values":[{}]},
"layer":[
{"mark":{"type":"text","align":"left","baseline":"middle","color":"#ffff00","fontSize":12,"font":"Noto Sans CJK SC"},
 "encoding":{"x":{"datum":-0.34,"axis":null,"scale":{"domain":[-0.4,66.96],"nice":false,"zero":false}},"y":{"datum":27.81,"axis":null,"scale":{"domain":[11.15,28.21],"nice":false,"zero":false}},"text":{"value":"所属行业：全国地产"}}},
{"mark":{"type":"text","align":"left","baseline":"middle","color":"#ffff00","fontSize":12,"font":"Noto Sans CJK SC"},
 "encoding":{"x":{"datum":7.92},"y":{"datum":27.81},"text":{"value":"所属地区：深圳板块"}}},
{"mark":{"type":"text","align":"left","baseline":"middle","color":"#ffff00","fontSize":12,"font":"Noto Sans CJK SC"},
 "encoding":{"x":{"datum":16.23},"y":{"datum":27.81},"text":{"value":"主营业务："}}},
{"mark":{"type":"text","align":"left","baseline":"middle","color":"#ffff00","fontSize":12,"font":"Noto Sans CJK SC"},
 "encoding":{"x":{"datum":-0.34},"y":{"datum":27.01},"text":{"value":"业绩预报："}}},
{"mark":{"type":"text","align":"left","baseline":"middle","color":"#ffff00","fontSize":12,"font":"Noto Sans CJK SC"},
 "encoding":{"x":{"datum":-0.34},"y":{"datum":26.19},"text":{"value":"主题投资："}}},
{"mark":{"type":"text","align":"left","baseline":"middle","color":"#ffff00","fontSize":12,"font":"Noto Sans CJK SC"},
 "encoding":{"x":{"datum":-0.34},"y":{"datum":25.36},"text":{"value":"解禁日期："}}},
{"mark":{"type":"text","align":"left","baseline":"middle","color":"#b0b0b0","fontSize":12,"font":"DejaVu Sans"},
 "encoding":{"x":{"datum":0.95},"y":{"datum":13.52},"text":{"value":"←13.52"}}},
{"mark":{"type":"text","align":"left","baseline":"middle","color":"#ff00ff","fontSize":13,"font":"Noto Sans CJK SC"},
 "encoding":{"x":{"datum":-0.34},"y":{"datum":11.72},"text":{"value":"主力 39166万"}}},
{"mark":{"type":"text","align":"left","baseline":"middle","color":"#00ffff","fontSize":13,"font":"Noto Sans CJK SC"},
 "encoding":{"x":{"datum":6.12},"y":{"datum":11.72},"text":{"value":"散户 -194万"}}},
{"mark":{"type":"text","align":"left","baseline":"middle","color":"#ffff00","fontSize":13,"font":"Noto Sans CJK SC"},
 "encoding":{"x":{"datum":11.68},"y":{"datum":11.72},"text":{"value":"净流入:(万)"}}},
{"mark":{"type":"rule","color":"#b00000","strokeWidth":2},"encoding":{"y":{"datum":11.21}}},
{"data":{"name":"marks"},"transform":[{"filter":"datum.m!='$'"}],"mark":{"type":"point","shape":"square","filled":true,"size":196,"opacity":1},
 "encoding":{"x":{"field":"i","type":"quantitative"},"y":{"datum":11.40},"color":{"field":"m","type":"nominal","legend":null,"scale":{"domain":["停","财","榜"],"range":["#008080","#0c3c7c","#8a4812"]}}}},
{"data":{"name":"marks"},"mark":{"type":"text","baseline":"middle","align":"center","fontSize":12,"font":"Noto Sans CJK SC","fontWeight":"bold"},
 "encoding":{"x":{"field":"i","type":"quantitative"},"y":{"datum":11.38},"text":{"field":"m"},"color":{"condition":{"test":"datum.m=='$'","value":"#ff2020"},"value":"#ffffff"}}},
{"mark":{"type":"text","align":"center","baseline":"middle","color":"#ffffff","fontSize":20,"fontWeight":"bold","font":"Noto Sans CJK SC"},
 "encoding":{"x":{"datum":57.72},"y":{"datum":12.82},"text":{"value":"掌　上　指　标"}}},
{"mark":{"type":"text","align":"center","baseline":"alphabetic","color":"#ffffff","fontSize":30,"font":"Liberation Sans"},
 "encoding":{"x":{"datum":57.69},"y":{"datum":11.80},"text":{"value":"www.palmindex.com"}}}
]
}
]
}
